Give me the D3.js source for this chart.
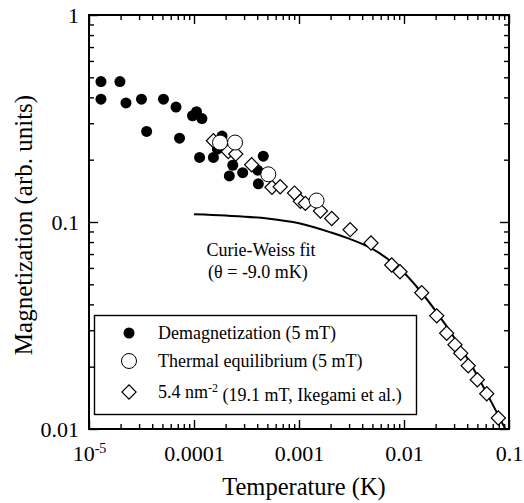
<!DOCTYPE html>
<html>
<head>
<meta charset="utf-8">
<script src="https://cdn.jsdelivr.net/npm/d3@7"></script>
<style>
  body { margin: 0; background: #fff; }
  text { font-family: "Liberation Serif", "Times New Roman", serif; fill: #000; }
</style>
</head>
<body>
<div id="chart"></div>
<script>
// frame
const FRAME_WIDTH = 524;
const FRAME_HEIGHT = 503;
const PLOT = {left: 89, right: 509, top: 15, bottom: 429};

// Demagnetization (5 mT): temperature (K), magnetization
const demagT = [1.30e-5, 1.30e-5, 1.97e-5, 2.25e-5, 3.16e-5, 3.54e-5, 5.12e-5, 6.74e-5,
                7.28e-5, 9.68e-5, 1.056e-4, 1.19e-4, 1.13e-4, 1.53e-4, 1.85e-4, 1.67e-4,
                2.34e-4, 2.17e-4, 2.91e-4, 4.57e-4, 4.04e-4, 4.10e-4];
const demagM = [0.477, 0.392, 0.477, 0.376, 0.392, 0.274, 0.392, 0.359,
                0.254, 0.326, 0.341, 0.316, 0.205, 0.205, 0.260, 0.225,
                0.188, 0.167, 0.173, 0.208, 0.178, 0.153];

// Thermal equilibrium (5 mT)
const thermT = [1.77e-4, 2.46e-4, 5.10e-4, 1.47e-3];
const thermM = [0.242, 0.242, 0.170, 0.127];

// 5.4 nm^-2 (19.1 mT, Ikegami et al.)
const ikeT = [1.53e-4, 2.12e-4, 2.50e-4, 3.54e-4, 5.53e-4, 6.62e-4, 9.06e-4, 1.03e-3,
              1.15e-3, 1.60e-3, 2.05e-3, 3.07e-3, 4.85e-3, 7.64e-3, 9.16e-3, 0.01475,
              0.0205, 0.0255, 0.0306, 0.0347, 0.0409, 0.0499, 0.0614, 0.0791];
const ikeM = [0.247, 0.219, 0.213, 0.189, 0.147, 0.148, 0.138, 0.126,
              0.123, 0.113, 0.104, 0.0918, 0.0792, 0.0620, 0.0575, 0.0455,
              0.0352, 0.0290, 0.0255, 0.0232, 0.0202, 0.0173, 0.0148, 0.0113];

// Curie-Weiss fit curve
const fitT = [1e-4, 2e-4, 5e-4, 1e-3, 2e-3, 3.16e-3, 5e-3, 7.94e-3, 0.01, 0.0141,
              0.02, 0.0316, 0.0447, 0.0631, 0.0794, 0.0912];
const fitM = [0.1089, 0.1074, 0.1040, 0.0986, 0.0891, 0.0822, 0.0741, 0.0631, 0.0569, 0.0468,
              0.0372, 0.0266, 0.0200, 0.0145, 0.0116, 0.0101];

// tick labels
const xTicks = [1e-5, 1e-4, 1e-3, 1e-2, 1e-1];
const xTickLabels = ["10", "0.0001", "0.001", "0.01", "0.1"];
const yTicks = [0.01, 0.1, 1];
const yTickLabels = ["0.01", "0.1", "1"];

const legendLabels = ["Demagnetization (5 mT)", "Thermal equilibrium (5 mT)", "5.4 nm"];

const svg = d3.select("#chart")
  .append("svg")
    .attr("width", FRAME_WIDTH)
    .attr("height", FRAME_HEIGHT);

svg.append("rect")
  .attr("width", FRAME_WIDTH).attr("height", FRAME_HEIGHT).attr("fill", "#fff");

const x = d3.scaleLog().domain([1e-5, 0.1]).range([PLOT.left, PLOT.right]);
const y = d3.scaleLog().domain([0.01, 1]).range([PLOT.bottom, PLOT.top]);

// minor tick values
function minors(lo, hi) {
  const out = [];
  for (let e = lo; e < hi; e++) {
    for (let m = 2; m <= 9; m++) out.push(m * Math.pow(10, e));
  }
  return out;
}
const xMinor = minors(-5, -1);
const yMinor = minors(-2, 0);

function styleAxis(g) {
  g.select(".domain").remove();
  g.selectAll(".tick line").attr("stroke", "#000").attr("stroke-width", 1.4);
}
function labelFont(g) {
  g.selectAll("text").attr("font-size", "22px")
    .attr("font-family", "Liberation Serif, Times New Roman, serif");
}

// bottom
svg.append("g")
  .attr("transform", "translate(0," + PLOT.bottom + ")")
  .call(d3.axisBottom(x).tickValues(xTicks).tickSize(-9).tickPadding(16)
        .tickFormat((d, i) => xTickLabels[i]))
  .call(styleAxis)
  .call(labelFont);
svg.append("g")
  .attr("transform", "translate(0," + PLOT.bottom + ")")
  .call(d3.axisBottom(x).tickValues(xMinor).tickSize(-5).tickFormat(""))
  .call(styleAxis);

// superscript on 10^-5
svg.selectAll("g.tick text").filter(d => d === 1e-5)
  .append("tspan").attr("dy", "-0.55em").attr("font-size", "14px").text("-5");

// top
svg.append("g")
  .attr("transform", "translate(0," + PLOT.top + ")")
  .call(d3.axisTop(x).tickValues(xTicks).tickSize(-9).tickFormat(""))
  .call(styleAxis);
svg.append("g")
  .attr("transform", "translate(0," + PLOT.top + ")")
  .call(d3.axisTop(x).tickValues(xMinor).tickSize(-5).tickFormat(""))
  .call(styleAxis);

// left
svg.append("g")
  .attr("transform", "translate(" + PLOT.left + ",0)")
  .call(d3.axisLeft(y).tickValues(yTicks).tickSize(-9).tickPadding(10)
        .tickFormat((d, i) => yTickLabels[i]))
  .call(styleAxis)
  .call(labelFont);
svg.append("g")
  .attr("transform", "translate(" + PLOT.left + ",0)")
  .call(d3.axisLeft(y).tickValues(yMinor).tickSize(-5).tickFormat(""))
  .call(styleAxis);

// right
svg.append("g")
  .attr("transform", "translate(" + PLOT.right + ",0)")
  .call(d3.axisRight(y).tickValues(yTicks).tickSize(-9).tickFormat(""))
  .call(styleAxis);
svg.append("g")
  .attr("transform", "translate(" + PLOT.right + ",0)")
  .call(d3.axisRight(y).tickValues(yMinor).tickSize(-5).tickFormat(""))
  .call(styleAxis);

// frame
svg.append("rect")
  .attr("x", PLOT.left).attr("y", PLOT.top)
  .attr("width", PLOT.right - PLOT.left).attr("height", PLOT.bottom - PLOT.top)
  .attr("fill", "none").attr("stroke", "#000").attr("stroke-width", 2);

// Curie-Weiss line
const fitData = fitT.map((t, i) => [t, fitM[i]]);
svg.append("path")
  .datum(fitData)
  .attr("fill", "none").attr("stroke", "#000").attr("stroke-width", 2)
  .attr("d", d3.line().x(d => x(d[0])).y(d => y(d[1])).curve(d3.curveMonotoneX));

// filled circles
svg.selectAll(".demag")
  .data(demagT.map((t, i) => [t, demagM[i]]))
  .enter().append("circle")
    .attr("class", "demag")
    .attr("cx", d => x(d[0])).attr("cy", d => y(d[1]))
    .attr("r", 5.5).attr("fill", "#000");

// diamonds
const diamond = d3.symbol().type(d3.symbolSquare).size(100);
svg.selectAll(".ike")
  .data(ikeT.map((t, i) => [t, ikeM[i]]))
  .enter().append("path")
    .attr("class", "ike")
    .attr("d", diamond)
    .attr("transform", d => "translate(" + x(d[0]) + "," + y(d[1]) + ") rotate(45)")
    .attr("fill", "#fff").attr("stroke", "#000").attr("stroke-width", 1.2);

// open circles
svg.selectAll(".therm")
  .data(thermT.map((t, i) => [t, thermM[i]]))
  .enter().append("circle")
    .attr("class", "therm")
    .attr("cx", d => x(d[0])).attr("cy", d => y(d[1]))
    .attr("r", 7.5).attr("fill", "#fff").attr("stroke", "#000").attr("stroke-width", 1);

// annotation
svg.append("text").attr("x", 261).attr("y", 256).attr("text-anchor", "middle")
  .attr("font-size", "18px").text("Curie-Weiss fit");
svg.append("text").attr("x", 258).attr("y", 278).attr("text-anchor", "middle")
  .attr("font-size", "18px").text("(\u03b8 = -9.0 mK)");

// legend
svg.append("rect")
  .attr("x", 94.5).attr("y", 315.5).attr("width", 322).attr("height", 99)
  .attr("fill", "#fff").attr("stroke", "#000").attr("stroke-width", 1.4);
svg.append("circle").attr("cx", 129).attr("cy", 333).attr("r", 5.5).attr("fill", "#000");
svg.append("circle").attr("cx", 129).attr("cy", 361).attr("r", 7.5)
  .attr("fill", "#fff").attr("stroke", "#000").attr("stroke-width", 1);
svg.append("path").attr("d", diamond)
  .attr("transform", "translate(129,392) rotate(45)")
  .attr("fill", "#fff").attr("stroke", "#000").attr("stroke-width", 1.2);

const legendY = [339, 367, 398];
legendLabels.forEach((lab, i) => {
  const t = svg.append("text").attr("x", 158).attr("y", legendY[i])
    .attr("font-size", "18px").text(lab);
  if (i === 2) {
    t.append("tspan").attr("dy", "-0.5em").attr("font-size", "12px").text("-2");
    t.append("tspan").attr("dy", "0.5em").text(" (19.1 mT, Ikegami et al.)");
  }
});

// axis titles
svg.append("text").attr("x", 304).attr("y", 495).attr("text-anchor", "middle")
  .attr("font-size", "24.5px").text("Temperature (K)");
svg.append("text")
  .attr("transform", "translate(32,225) rotate(-90)")
  .attr("text-anchor", "middle")
  .attr("font-size", "25px").text("Magnetization (arb. units)");
</script>
</body>
</html>
